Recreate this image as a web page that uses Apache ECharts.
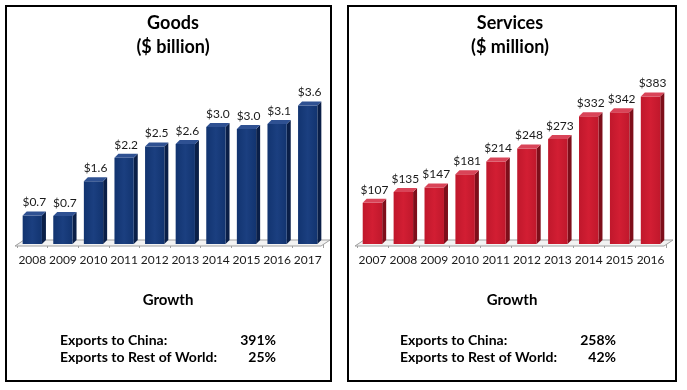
<!DOCTYPE html>
<html>
<head>
<meta charset="utf-8">
<script src="https://cdn.jsdelivr.net/npm/echarts/dist/echarts.min.js"></script>
<style>html,body{margin:0;padding:0;background:#fff}#c{width:687px;height:390px}</style>
</head>
<body>
<div id="c"></div>
<script>
// ---- data ----
const goodsYears = ['2008','2009','2010','2011','2012','2013','2014','2015','2016','2017'];
const goodsValues = [0.74, 0.73, 1.63, 2.24, 2.53, 2.6, 3.04, 2.99, 3.12, 3.6];
const servicesYears = ['2007','2008','2009','2010','2011','2012','2013','2014','2015','2016'];
const servicesValues = [107, 135, 147, 181, 214, 248, 273, 332, 342, 383];
const growthLabels = ['Exports to China:', 'Exports to Rest of World:'];
const goodsGrowth = ['391%', '25%'];
const servicesGrowth = ['258%', '42%'];

const FONT = 'Lato, "Open Sans", sans-serif';

function bar3d(front, side, topc, fmt) {
  return function (params, api) {
    const x = api.value(0), v = api.value(1);
    const top = api.coord([x, v]);
    const base = api.coord([x, 0]);
    const band = api.size([1, 0])[0];
    const bw = band * 0.63;
    const d = 4;
    const x0 = top[0] - bw / 2, x1 = top[0] + bw / 2;
    const yt = top[1], yb = base[1];
    return {
      type: 'group',
      children: [
        { type: 'polygon', shape: { points: [[x1, yt], [x1 + d, yt - d], [x1 + d, yb - d], [x1, yb]] }, style: { fill: side } },
        { type: 'rect', shape: { x: x0, y: yt, width: bw, height: yb - yt }, style: { fill: front } },
        { type: 'polygon', shape: { points: [[x0, yt], [x0 + d, yt - d], [x1 + d, yt - d], [x1, yt]] }, style: { fill: topc } },
        { type: 'text', x: top[0] + d / 2, y: yt - d - 3,
          style: { text: fmt(v), font: '12px ' + FONT, fill: '#1a1a1a', align: 'center', verticalAlign: 'bottom', textAlign: 'center', textVerticalAlign: 'bottom' } }
      ]
    };
  };
}

function floor(n) {
  return function (params, api) {
    const band = api.size([1, 0])[0];
    const a = api.coord([0, 0]), b = api.coord([n - 1, 0]);
    const xl = a[0] - band / 2, xr = b[0] + band / 2, y = a[1];
    return {
      type: 'polygon',
      shape: { points: [[xl - 2, y + 2], [xr - 2, y + 2], [xr + 7, y - 4], [xl + 7, y - 4]] },
      style: { fill: '#f2f2f2', stroke: '#a0a0a0', lineWidth: 1 }
    };
  };
}

function xAx(idx, cats) {
  return {
    type: 'category', gridIndex: idx, data: cats, boundaryGap: true,
    axisLine: { show: false },
    axisTick: { show: true, length: 4, interval: 0, lineStyle: { color: '#a0a0a0' } },
    axisLabel: { interval: 0, color: '#1a1a1a', fontSize: 12, fontFamily: FONT, margin: 10 }
  };
}
function yAx(idx, max) {
  return { type: 'value', gridIndex: idx, min: 0, max: max, show: false, splitLine: { show: false } };
}

const T = (x, y, text, size, align) => ({
  type: 'text', x: x, y: y,
  style: { text: text, font: 'bold ' + size + 'px ' + FONT, fill: '#000', textAlign: align, textVerticalAlign: 'middle' }
});

const chart = echarts.init(document.getElementById('c'), null, { renderer: 'canvas' });
chart.setOption({
  animation: false,
  backgroundColor: '#fff',
  grid: [
    { left: 17, width: 306, top: 90, height: 154 },
    { left: 357, width: 309, top: 90, height: 154 }
  ],
  xAxis: [xAx(0, goodsYears), xAx(1, servicesYears)],
  yAxis: [yAx(0, 4), yAx(1, 400)],
  graphic: [
    { type: 'rect', shape: { x: 6, y: 6, width: 325, height: 375 }, style: { fill: 'none', stroke: '#000', lineWidth: 2 }, z: 10 },
    { type: 'rect', shape: { x: 348, y: 6, width: 328, height: 375 }, style: { fill: 'none', stroke: '#000', lineWidth: 2 }, z: 10 },
    T(173, 23, 'Goods', 18, 'center'),
    T(173, 47, '($ billion)', 18, 'center'),
    T(510, 23, 'Services', 18, 'center'),
    T(510, 47, '($ million)', 18, 'center'),
    T(168, 300, 'Growth', 15, 'center'),
    T(512, 300, 'Growth', 15, 'center'),
    T(60, 340, growthLabels[0], 14, 'left'),
    T(60, 357, growthLabels[1], 14, 'left'),
    T(276, 340, goodsGrowth[0], 14, 'right'),
    T(276, 357, goodsGrowth[1], 14, 'right'),
    T(400, 340, growthLabels[0], 14, 'left'),
    T(400, 357, growthLabels[1], 14, 'left'),
    T(616, 340, servicesGrowth[0], 14, 'right'),
    T(616, 357, servicesGrowth[1], 14, 'right')
  ],
  series: [
    { type: 'custom', xAxisIndex: 0, yAxisIndex: 0, renderItem: floor(goodsYears.length), data: [[0, 0]], z: 1, silent: true },
    { type: 'custom', xAxisIndex: 1, yAxisIndex: 1, renderItem: floor(servicesYears.length), data: [[0, 0]], z: 1, silent: true },
    { type: 'custom', xAxisIndex: 0, yAxisIndex: 0, z: 2,
      renderItem: bar3d({ type: 'linear', x: 0, y: 0, x2: 1, y2: 0, colorStops: [{ offset: 0, color: '#123470' }, { offset: 0.5, color: '#1b3f80' }, { offset: 1, color: '#123470' }] }, '#0a1f48', '#2f5192', v => '$' + v.toFixed(1)),
      data: goodsValues.map((v, i) => [i, v]) },
    { type: 'custom', xAxisIndex: 1, yAxisIndex: 1, z: 2,
      renderItem: bar3d({ type: 'linear', x: 0, y: 0, x2: 1, y2: 0, colorStops: [{ offset: 0, color: '#c0182c' }, { offset: 0.5, color: '#d21e33' }, { offset: 1, color: '#c0182c' }] }, '#7e0e1a', '#d94458', v => '$' + Math.round(v)),
      data: servicesValues.map((v, i) => [i, v]) }
  ]
});
</script>
</body>
</html>
